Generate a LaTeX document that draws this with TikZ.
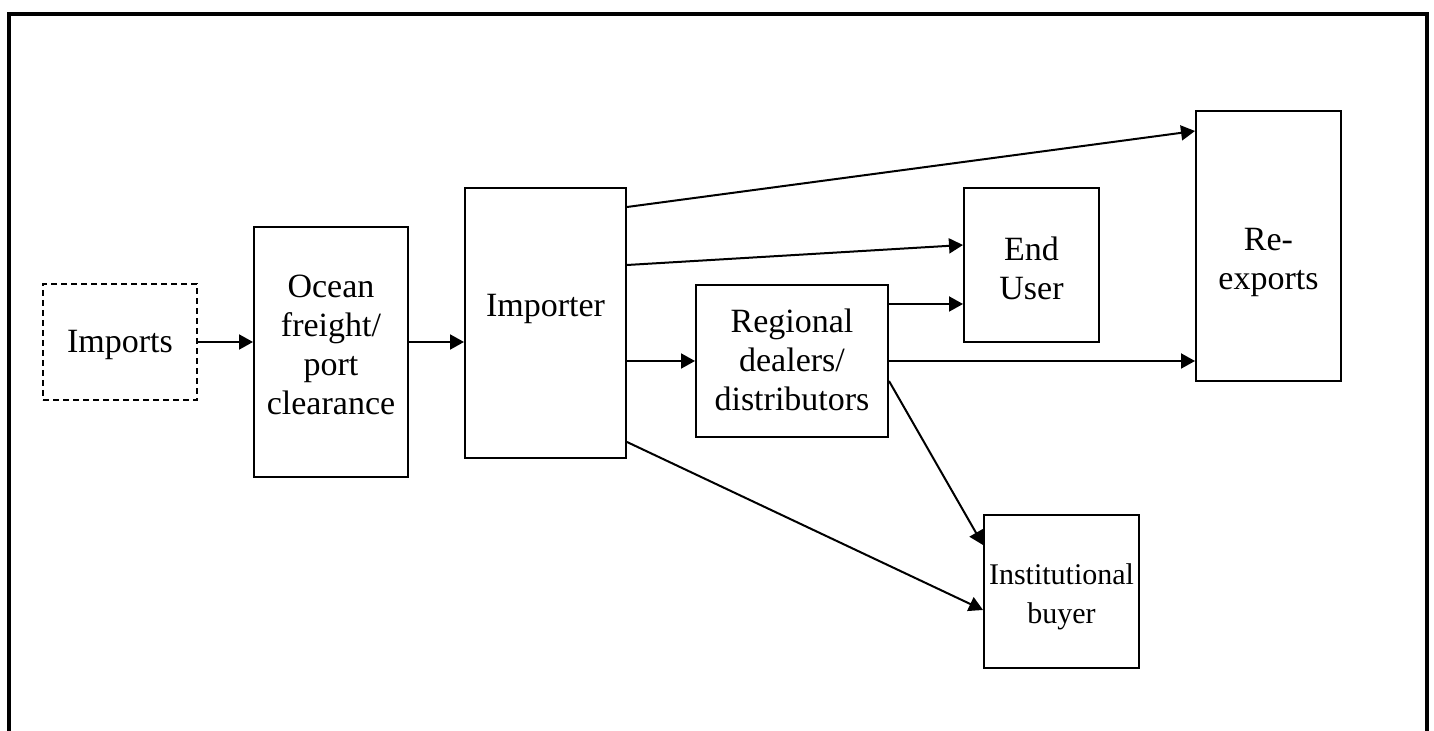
\documentclass[tikz,border=0pt]{standalone}
\usepackage{fontspec}
\setmainfont{Liberation Serif}
\usetikzlibrary{arrows.meta}
\begin{document}
\begin{tikzpicture}[x=0.5pt,y=-0.5pt,
  box/.style={draw, line width=1pt, inner sep=0pt},
  dbox/.style={box, dash pattern=on 3pt off 2pt},
  lbl/.style={font=\fontsize{17}{19.5}\selectfont, align=center, inner sep=0pt},
  arr/.style={line width=1pt, -{Triangle[length=7pt,width=7.5pt]}}]
\useasboundingbox (0,0) rectangle (1434,731);
% outer frame
\draw[line width=2pt] (9,731) -- (9,14) -- (1427,14) -- (1427,731);
% boxes
\node[dbox, minimum width=77pt, minimum height=58pt] (imports) at (120,342) {};
\node[box, minimum width=77pt, minimum height=125pt] (ocean) at (331,352) {};
\node[box, minimum width=80.5pt, minimum height=135pt] (importer) at (545.5,323) {};
\node[box, minimum width=96pt, minimum height=76pt] (regional) at (792,361) {};
\node[box, minimum width=67.5pt, minimum height=77pt] (enduser) at (1031.5,265) {};
\node[box, minimum width=72.5pt, minimum height=135pt] (reexports) at (1268.5,246) {};
\node[box, minimum width=77.5pt, minimum height=76.5pt] (inst) at (1061.5,591.5) {};
% texts
\node[lbl, anchor=base] (imports-t) at (120,353) {Imports};
\node[lbl] (ocean-t) at (331,344.5) {Ocean\\freight/\\port\\clearance};
\node[lbl, anchor=base] (importer-t) at (545.5,317) {Importer};
\node[lbl] (regional-t) at (792,360) {Regional\\dealers/\\distributors};
\node[lbl] (enduser-t) at (1031.5,268) {End\\User};
\node[lbl] (reexports-t) at (1268.5,262.5) {Re-\\exports};
\node[lbl, font=\fontsize{15}{19.5}\selectfont] (inst-t) at (1061.5,597) {Institutional\\buyer};
% connectors
\draw[arr] (imports.east) -- (ocean.west |- imports.east);
\draw[arr] (ocean.east |- 0,342) -- (importer.west |- 0,342);
\draw[arr] (importer.east |- 0,361) -- (regional.west |- 0,361);
\draw[arr] (importer.east |- 0,207) -- (reexports.west |- 0,131);
\draw[arr] (importer.east |- 0,265) -- (enduser.west |- 0,245);
\draw[arr] (regional.east |- 0,304) -- (enduser.west |- 0,304);
\draw[arr] (regional.east |- 0,361) -- (reexports.west |- 0,361);
\draw[arr] (regional.east |- 0,381) -- (inst.west |- 0,545);
\draw[arr] (importer.east |- 0,442) -- (inst.west |- 0,610);
\end{tikzpicture}
\end{document}
